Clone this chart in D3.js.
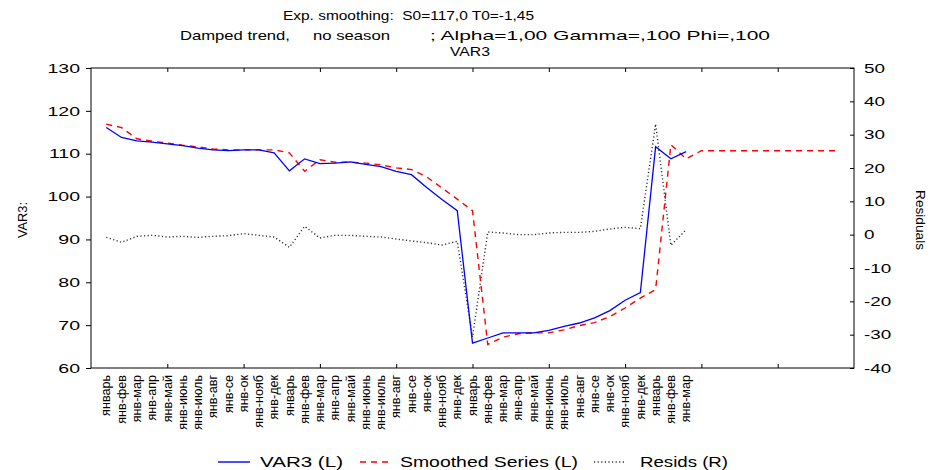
<!DOCTYPE html>
<html>
<head>
<meta charset="utf-8">
<script src="https://cdn.jsdelivr.net/npm/d3@7"></script>
<style>
body { margin: 0; background: #fff; }
text { font-family: "Liberation Sans", Arial, sans-serif; fill: #000; }
</style>
</head>
<body>
<svg id="chart" width="933" height="470"></svg>
<script>
var categories = [
    "январь","янв-фев","янв-мар","янв-апр","янв-май","янв-июнь","янв-июль","янв-авг","янв-се","янв-ок","янв-нояб","янв-дек",
    "январь","янв-фев","янв-мар","янв-апр","янв-май","янв-июнь","янв-июль","янв-авг","янв-се","янв-ок","янв-нояб","янв-дек",
    "январь","янв-фев","янв-мар","янв-апр","янв-май","янв-июнь","янв-июль","янв-авг","янв-се","янв-ок","янв-нояб","янв-дек",
    "январь","янв-фев","янв-мар"
]

var var3 = [116.1,113.8,113.0,112.7,112.3,111.9,111.3,110.9,110.7,110.9,110.9,110.2,
    106.0,108.8,107.7,107.8,108.1,107.5,107.0,105.9,105.1,102.1,99.3,96.7,
    65.8,67.0,68.2,68.2,68.2,68.8,69.7,70.5,71.7,73.4,75.8,77.6,
    111.6,108.8,110.5]

var smoothed = [116.9,116.1,113.5,112.9,112.5,112.0,111.6,111.1,110.9,110.9,110.9,110.9,
    110.2,105.9,108.6,108.0,108.0,107.8,107.4,106.7,106.3,104.6,102.0,99.4,
    96.7,65.5,67.2,68.0,68.2,68.2,68.9,69.9,70.6,72.0,74.0,76.3,
    78.3,112.1,108.8,
    110.7,110.7,110.7,110.7,110.7,110.7,110.7,110.7,110.7,110.7]

var resids = [-0.8,-2.3,-0.5,-0.2,-0.7,-0.5,-0.8,-0.5,-0.3,0.3,-0.2,-0.7,
    -3.8,2.5,-1.0,-0.2,-0.2,-0.5,-0.7,-1.3,-1.9,-2.4,-3.1,-2.0,
    -30.7,0.8,0.5,0.0,0.0,0.5,0.7,0.7,1.0,1.7,2.2,1.8,
    33.2,-3.2,1.5]

var leftTicks = [60,70,80,90,100,110,120,130]
var rightTicks = [-40,-30,-20,-10,0,10,20,30,40,50]
var caseTicks = [5,10,15,20,25,30,35,40,45]

var titleTop = "Exp. smoothing:  S0=117,0 T0=-1,45"
var titleParts = ["Damped trend,", "no season", "; Alpha=1,00 Gamma=,100 Phi=,100"]
var titleVar = "VAR3"
var legendNames = ["VAR3 (L)", "Smoothed Series (L)", "Resids (R)"]

var dimensions = {
    margin: { top: 68, left: 91 },
    width: 763,
    height: 300
}

// stretch text horizontally (the original uses a wide screen font)
function stretch(sel, k) {
    sel.each(function() {
        var w = this.getComputedTextLength()
        d3.select(this).attr("textLength", w * k).attr("lengthAdjust", "spacingAndGlyphs")
    })
}

var svg = d3.select("#chart")
var g = svg.append("g")
    .attr("transform", "translate(" + dimensions.margin.left + "," + dimensions.margin.top + ")")

var x = d3.scaleLinear().domain([0, 50]).range([0, dimensions.width])
var yL = d3.scaleLinear().domain([60, 130]).range([dimensions.height, 0])
var yR = d3.scaleLinear().domain([-40, 50]).range([dimensions.height, 0])

// frame
g.append("rect")
    .attr("width", dimensions.width)
    .attr("height", dimensions.height)
    .attr("fill", "none")
    .attr("stroke", "#000")

var leftAxis = g.append("g")
    .call(d3.axisLeft(yL).tickValues(leftTicks).tickSizeInner(5).tickSizeOuter(0).tickPadding(6)
        .tickFormat(function(d) { return String(d) }))
leftAxis.select(".domain").remove()
leftAxis.selectAll("text").style("font-size", "13px")
stretch(leftAxis.selectAll("text"), 1.5)

var rightAxis = g.append("g")
    .attr("transform", "translate(" + dimensions.width + ",0)")
    .call(d3.axisRight(yR).tickValues(rightTicks).tickSizeInner(-4).tickSizeOuter(0).tickPadding(10)
        .tickFormat(function(d) { return String(d) }))
rightAxis.select(".domain").remove()
rightAxis.selectAll("text").style("font-size", "13px")
stretch(rightAxis.selectAll("text"), 1.45)

var topAxis = g.append("g")
    .call(d3.axisTop(x).tickValues(caseTicks).tickSizeInner(-4).tickSizeOuter(0).tickFormat(""))
topAxis.select(".domain").remove()

var bottomAxis = g.append("g")
    .attr("transform", "translate(0," + dimensions.height + ")")
    .call(d3.axisBottom(x).tickValues(caseTicks).tickSizeInner(-4).tickSizeOuter(0).tickFormat(""))
bottomAxis.select(".domain").remove()

// case labels
var labels = g.append("g").selectAll("text")
    .data(categories)
    .enter()
    .append("text")
        .attr("transform", function(d, i) {
            return "translate(" + x(i + 1) + "," + (dimensions.height + 7) + ") rotate(-90)"
        })
        .attr("text-anchor", "end")
        .attr("dy", "0.35em")
        .style("font-size", "12px")
        .text(function(d) { return d })
stretch(labels, 1.05)

// series
var lineL = d3.line()
    .x(function(d, i) { return x(i + 1) })
    .y(function(d) { return yL(d) })
var lineR = d3.line()
    .x(function(d, i) { return x(i + 1) })
    .y(function(d) { return yR(d) })

g.append("path")
    .attr("d", lineR(resids))
    .attr("fill", "none")
    .attr("stroke", "#333")
    .attr("stroke-width", 1.4)
    .attr("stroke-dasharray", "1.2,2.4")

g.append("path")
    .attr("d", lineL(smoothed))
    .attr("fill", "none")
    .attr("stroke", "#ff0000")
    .attr("stroke-width", 1.4)
    .attr("stroke-dasharray", "6,5")

g.append("path")
    .attr("d", lineL(var3))
    .attr("fill", "none")
    .attr("stroke", "#0000ff")
    .attr("stroke-width", 1.3)

// axis titles
svg.append("text")
    .attr("transform", "translate(22,220) rotate(-90)")
    .attr("text-anchor", "middle")
    .attr("dy", "0.35em")
    .style("font-size", "13px")
    .attr("textLength", 36)
    .attr("lengthAdjust", "spacingAndGlyphs")
    .text("VAR3:")

svg.append("text")
    .attr("transform", "translate(921,220) rotate(90)")
    .attr("text-anchor", "middle")
    .attr("dy", "0.35em")
    .style("font-size", "13px")
    .attr("textLength", 60)
    .attr("lengthAdjust", "spacingAndGlyphs")
    .text("Residuals")

// title
svg.append("text")
    .attr("x", 283).attr("y", 20)
    .attr("textLength", 251).attr("lengthAdjust", "spacingAndGlyphs")
    .style("font-size", "13px")
    .style("white-space", "pre")
    .text(titleTop)

var partPos = [[180, 110], [313, 77], [430, 340]]
svg.append("g").selectAll("text")
    .data(titleParts)
    .enter()
    .append("text")
        .attr("x", function(d, i) { return partPos[i][0] })
        .attr("y", 40)
        .attr("textLength", function(d, i) { return partPos[i][1] })
        .attr("lengthAdjust", "spacingAndGlyphs")
        .style("font-size", "13px")
        .text(function(d) { return d })

svg.append("text")
    .attr("x", 450).attr("y", 56)
    .attr("textLength", 40).attr("lengthAdjust", "spacingAndGlyphs")
    .style("font-size", "13px")
    .text(titleVar)

// legend
var legendItems = [
    { x: 218, tx: 260, w: 83, color: "#0000ff", dash: null },
    { x: 360, tx: 400, w: 178, color: "#ff0000", dash: "6,5" },
    { x: 594, tx: 640, w: 88, color: "#333", dash: "1.2,2.4" }
]
var legend = svg.append("g").attr("transform", "translate(0,462)")
legend.selectAll("line")
    .data(legendItems)
    .enter()
    .append("line")
        .attr("x1", function(d) { return d.x })
        .attr("x2", function(d) { return d.x + 32 })
        .attr("stroke", function(d) { return d.color })
        .attr("stroke-width", 1.4)
        .attr("stroke-dasharray", function(d) { return d.dash })
legend.selectAll("text")
    .data(legendItems)
    .enter()
    .append("text")
        .attr("x", function(d) { return d.tx })
        .attr("dy", "0.35em")
        .attr("textLength", function(d) { return d.w })
        .attr("lengthAdjust", "spacingAndGlyphs")
        .style("font-size", "14px")
        .text(function(d, i) { return legendNames[i] })
</script>
</body>
</html>
